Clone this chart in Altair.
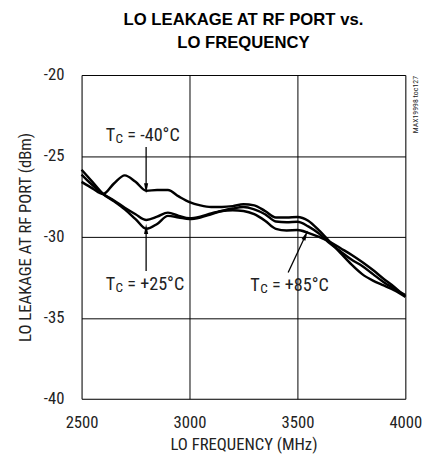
import altair as alt
import pandas as pd

freq = [2500, 2550, 2600, 2650, 2700, 2750, 2800, 2850, 2900, 2950, 3000, 3050, 3100, 3150, 3200, 3250,
        3300, 3350, 3400, 3450, 3500, 3550, 3600, 3650, 3700, 3750, 3800, 3850, 3900, 3950, 4000]
t_m40 = [-26.6, -27.0, -27.35, -26.7, -26.2, -26.6, -27.15, -27.1, -27.1, -27.5, -27.85, -28.05, -28.15, -28.15,
         -28.1, -27.98, -28.05, -28.4, -28.8, -28.8, -28.77, -29.0, -29.6, -30.3, -31.0, -31.7, -32.3, -32.7,
         -33.0, -33.3, -33.7]
t_p25 = [-25.85, -26.6, -27.35, -27.8, -28.3, -28.9, -29.5, -29.2, -28.7, -28.8, -28.9, -28.8, -28.6, -28.4,
         -28.25, -28.15, -28.3, -28.6, -29.05, -29.1, -29.07, -29.35, -29.8, -30.4, -30.9, -31.4, -31.8, -32.3,
         -32.8, -33.2, -33.6]
t_p85 = [-26.15, -26.8, -27.35, -27.75, -28.2, -28.6, -28.95, -28.75, -28.5, -28.7, -28.85, -28.75, -28.55, -28.4,
         -28.35, -28.4, -28.6, -29.0, -29.5, -29.6, -29.58, -29.75, -30.0, -30.3, -30.7, -31.1, -31.55, -32.05,
         -32.6, -33.1, -33.7]
series_names = ["-40", "+25", "+85"]

x_ticks = [2500, 3000, 3500, 4000]
y_ticks = [-40, -35, -30, -25, -20]

# annotation labels
lab_names = ["= -40°C", "= +25°C", "= +85°C"]
lab_x = [2612, 2612, 3282]
lab_y = [-23.7, -32.9, -33.0]
# arrows: start -> tip
arr_x0 = [2799, 2799, 3457]
arr_y0 = [-24.45, -32.1, -32.2]
arr_x1 = [2799, 2799, 3538]
arr_y1 = [-27.0, -29.5, -29.9]
arr_angle = [180, 0, 25]

FONT = "Roboto Condensed, DejaVu Sans Condensed, sans-serif"
TFONT = "Liberation Sans, Arial, sans-serif"

rows = []
for name, vals in zip(series_names, [t_m40, t_p25, t_p85]):
    for f, v in zip(freq, vals):
        rows.append({"f": f, "v": v, "s": name})
df = pd.DataFrame(rows)

xs = alt.Scale(domain=[2500, 4000], nice=False)
ys = alt.Scale(domain=[-40, -20], nice=False)

xax = alt.Axis(values=x_ticks, title="LO FREQUENCY (MHz)", grid=True, gridColor="black", gridWidth=1,
               gridOpacity=1, ticks=False, domain=False, labelFont=FONT, labelFontSize=17,
               labelColor="#222", labelPadding=16, labelFlush=False, titleFont=FONT, titleFontSize=17,
               titleFontWeight="normal", titleColor="#222", titlePadding=7, labelExpr="'' + datum.value")
yax = alt.Axis(values=y_ticks, title="LO LEAKAGE AT RF PORT (dBm)", grid=True, gridColor="black",
               gridWidth=1, gridOpacity=1, ticks=False, domain=False, labelFont=FONT, labelFontSize=17,
               labelColor="#222", labelPadding=18, labelFlush=False, titleFont=FONT, titleFontSize=17,
               titleFontWeight="normal", titleColor="#222", titlePadding=9, labelExpr="'' + datum.value")

lines = alt.Chart(df).mark_line(color="black", strokeWidth=2.5, interpolate="monotone").encode(
    x=alt.X("f:Q", scale=xs, axis=xax),
    y=alt.Y("v:Q", scale=ys, axis=yax),
    detail="s:N",
)

ann = pd.DataFrame({"lab": lab_names, "x": lab_x, "y": lab_y,
                    "x0": arr_x0, "y0": arr_y0, "x1": arr_x1, "y1": arr_y1, "ang": arr_angle,
                    "T": ["T"] * 3, "C": ["C"] * 3})

t_T = alt.Chart(ann).mark_text(font=FONT, fontSize=18.5, align="left", baseline="middle", color="#222").encode(
    x=alt.X("x:Q", scale=xs), y=alt.Y("y:Q", scale=ys), text="T:N")
t_C = alt.Chart(ann).mark_text(font=FONT, fontSize=13.5, align="left", baseline="middle", color="#222",
                               dx=10, dy=4).encode(
    x=alt.X("x:Q", scale=xs), y=alt.Y("y:Q", scale=ys), text="C:N")
t_rest = alt.Chart(ann).mark_text(font=FONT, fontSize=18.5, align="left", baseline="middle", color="#222",
                                  dx=22).encode(
    x=alt.X("x:Q", scale=xs), y=alt.Y("y:Q", scale=ys), text="lab:N")

shafts = alt.Chart(ann).mark_rule(color="black", strokeWidth=1.3).encode(
    x=alt.X("x0:Q", scale=xs), y=alt.Y("y0:Q", scale=ys), x2="x1:Q", y2="y1:Q")
heads = alt.Chart(ann).mark_point(shape="M0,-1L-0.4,1L0.4,1Z", filled=True, color="black", opacity=1,
                                  size=110).encode(
    x=alt.X("x1:Q", scale=xs), y=alt.Y("y1:Q", scale=ys), angle=alt.Angle("ang:Q", scale=None))

side = alt.Chart(pd.DataFrame({"x": [4000], "y": [-20], "t": ["MAX19998 toc127"]})).mark_text(
    font=FONT, fontSize=8, angle=270, align="right", baseline="middle", color="#222", dx=-1, dy=11).encode(
    x=alt.X("x:Q", scale=xs), y=alt.Y("y:Q", scale=ys), text="t:N")

chart = alt.layer(lines, shafts, heads, t_T, t_C, t_rest, side).properties(
    width=330, height=330,
    title=alt.Title(["LO LEAKAGE AT RF PORT vs.", "LO FREQUENCY"], font=TFONT, fontSize=17,
                    fontWeight="bold", color="black", anchor="middle", offset=15, lineHeight=23),
    autosize=alt.AutoSizeParams(type="none"),
    padding={"left": 75, "top": 64, "right": 18, "bottom": 53},
).configure_view(stroke="black", strokeWidth=2.5).configure(background="white")

chart.save("out.html", embed_options={"renderer": "svg", "actions": False})
